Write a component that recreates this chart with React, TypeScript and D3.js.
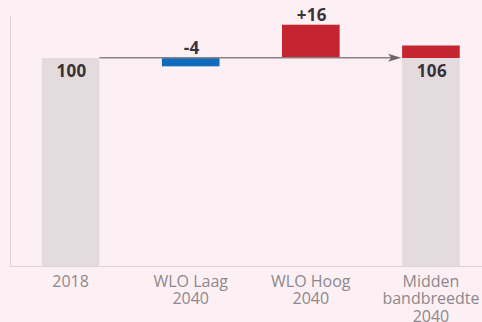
import React, { useEffect, useRef } from "react";
import * as d3 from "d3";

// Waterfall: 2018 level, scenario deltas, and the 2040 midpoint
const categories = ["2018", "WLO Laag 2040", "WLO Hoog 2040", "Midden bandbreedte 2040"];
const categoryLines = [["2018"], ["WLO Laag", "2040"], ["WLO Hoog", "2040"], ["Midden", "bandbreedte", "2040"]];
const baseValue = 100;
const scenarioDeltas = [-4, 16];
const finalValue = 106;
const yMax = 120;

const W = 482;
const H = 322;

export default function App() {
  const ref = useRef<SVGSVGElement | null>(null);

  useEffect(() => {
    const svg = d3.select(ref.current);
    svg.selectAll("*").remove();

    const x = d3
      .scaleBand<string>()
      .domain(categories)
      .range([10.5, 491])
      .paddingInner(0.52)
      .paddingOuter(0.26);
    const y = d3.scaleLinear().domain([0, yMax]).range([266, 16.4]);
    const bw = x.bandwidth();

    svg.append("rect").attr("width", W).attr("height", H).attr("fill", "#fcf0f4");

    // axis lines
    svg.append("line").attr("x1", 10.5).attr("x2", 10.5).attr("y1", y(yMax)).attr("y2", y(0))
      .attr("stroke", "#ddd3d7").attr("stroke-width", 1);
    svg.append("line").attr("x1", 10).attr("x2", W).attr("y1", y(0) + 0.5).attr("y2", y(0) + 0.5)
      .attr("stroke", "#ddd3d7").attr("stroke-width", 1);

    const grey = "#e3dbde";
    const blue = "#0f6cbd";
    const red = "#c42530";

    // base columns
    [categories[0], categories[3]].forEach((c) => {
      svg.append("rect")
        .attr("x", x(c)!)
        .attr("y", y(baseValue))
        .attr("width", bw)
        .attr("height", y(0) - y(baseValue))
        .attr("fill", grey);
    });

    // floating deltas
    const segments = [
      { cat: categories[1], from: baseValue, to: baseValue + scenarioDeltas[0], color: blue },
      { cat: categories[2], from: baseValue, to: baseValue + scenarioDeltas[1], color: red },
      { cat: categories[3], from: baseValue, to: finalValue, color: red },
    ];
    segments.forEach((s) => {
      const top = y(Math.max(s.from, s.to));
      const bot = y(Math.min(s.from, s.to));
      svg.append("rect")
        .attr("x", x(s.cat)!)
        .attr("y", top)
        .attr("width", bw)
        .attr("height", bot - top)
        .attr("fill", s.color);
    });

    // connector arrow at the base level
    const x0 = x(categories[0])! + bw;
    const x1 = x(categories[3])! - 1;
    const ly = y(baseValue) - 0.3;
    svg.append("line").attr("x1", x0).attr("x2", x1 - 10).attr("y1", ly).attr("y2", ly)
      .attr("stroke", "#8a8286").attr("stroke-width", 1.6);
    svg.append("path")
      .attr("d", `M${x1 - 13},${ly - 4}L${x1},${ly}L${x1 - 13},${ly + 4}L${x1 - 10},${ly}Z`)
      .attr("fill", "#6e666a");

    // value labels
    const fmt = (v: number) => (v > 0 ? `+${v}` : `${v}`);
    const labels = [
      { cat: categories[0], text: `${baseValue}`, yy: y(baseValue) + 19 },
      { cat: categories[1], text: fmt(scenarioDeltas[0]), yy: y(baseValue) - 4 },
      { cat: categories[2], text: fmt(scenarioDeltas[1]), yy: y(baseValue + scenarioDeltas[1]) - 3.5 },
      { cat: categories[3], text: `${finalValue}`, yy: y(baseValue) + 19 },
    ];
    labels.forEach((l) => {
      svg.append("text")
        .attr("x", x(l.cat)! + bw / 2 + 1)
        .attr("y", l.yy)
        .attr("text-anchor", "middle")
        .attr("font-family", "'Open Sans', sans-serif")
        .attr("font-weight", 700)
        .attr("font-size", 17)
        .attr("letter-spacing", 0.4)
        .attr("fill", "#3a3236")
        .text(l.text);
    });

    // category labels
    categories.forEach((c, i) => {
      const t = svg.append("text")
        .attr("x", x(c)! + bw / 2)
        .attr("y", 286.5)
        .attr("text-anchor", "middle")
        .attr("font-family", "'Open Sans', sans-serif")
        .attr("font-size", 16)
        .attr("fill", "#8e888b");
      categoryLines[i].forEach((line, j) => {
        t.append("tspan").attr("x", x(c)! + bw / 2).attr("dy", j === 0 ? 0 : 17.5).text(line);
      });
    });
  }, []);

  return (
    <svg
      ref={ref}
      width={W}
      height={H}
      style={{ position: "absolute", left: 0, top: 0, display: "block" }}
    />
  );
}
